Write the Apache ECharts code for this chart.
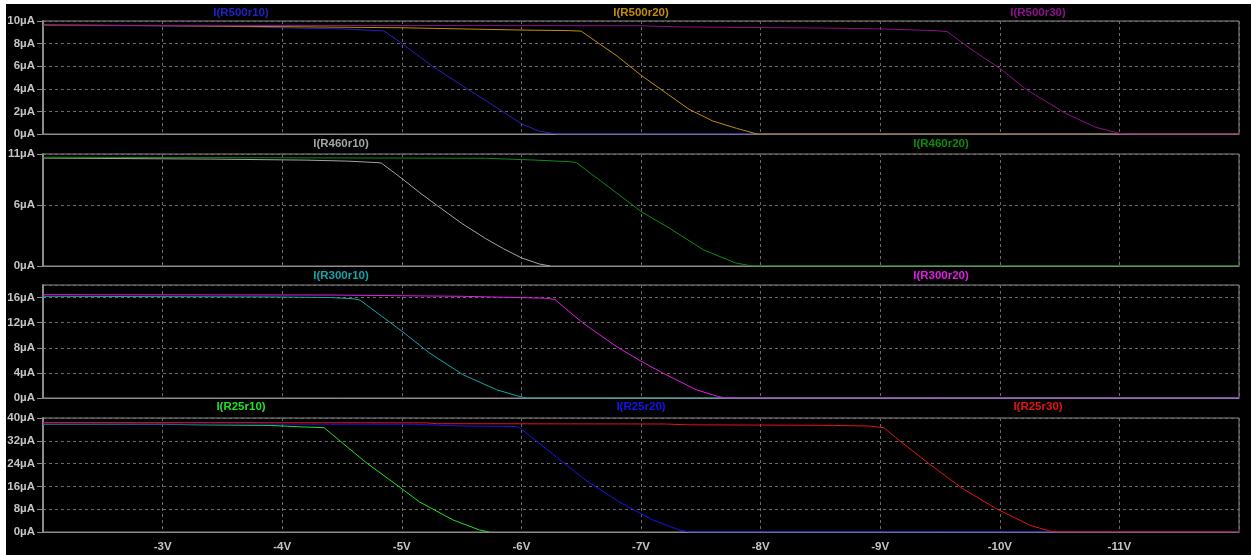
<!DOCTYPE html>
<html>
<head>
<meta charset="utf-8">
<script src="https://cdn.jsdelivr.net/npm/echarts@6/dist/echarts.min.js"></script>
<style>
    html, body { margin: 0; padding: 0; background: #fff; }
    #chart { width: 1251px; height: 555px; }
</style>
</head>
<body>
<div id="chart"></div>
<script>
    // [volts, µA]
    var r500r10 = [[-2, 9.6], [-3.5, 9.55], [-4.0, 9.4], [-4.5, 9.3], [-4.85, 9.12], [-4.98, 8.17], [-5.15, 6.84], [-5.26, 5.96],
        [-5.54, 4.04], [-5.82, 2.15], [-6.0, 0.9], [-6.15, 0.25], [-6.3, 0], [-12, 0]]
    var r500r20 = [[-2, 9.65], [-2.8, 9.6], [-4.0, 9.5], [-5.0, 9.4], [-5.5, 9.3], [-6.0, 9.2], [-6.4, 9.15], [-6.5, 9.1],
        [-6.65, 8.0], [-6.8, 6.9], [-7.0, 5.2], [-7.2, 3.7], [-7.4, 2.2], [-7.6, 1.15], [-7.8, 0.5], [-7.97, 0], [-12, 0]]
    var r500r30 = [[-2, 9.62], [-7.0, 9.58], [-7.3, 9.48], [-8.5, 9.38], [-9.0, 9.3], [-9.45, 9.15], [-9.56, 9.06],
        [-9.77, 7.43], [-10.0, 5.81], [-10.22, 3.95], [-10.55, 1.83], [-10.8, 0.6], [-11.0, 0.06], [-11.05, 0], [-12, 0]]

    var r460r10 = [[-2, 10.6], [-3.4, 10.5], [-4.2, 10.4], [-4.55, 10.3], [-4.8, 10.15], [-4.83, 10.1], [-5.0, 8.6],
        [-5.15, 7.2], [-5.3, 5.9], [-5.5, 4.2], [-5.7, 2.7], [-5.85, 1.7], [-6.0, 0.8], [-6.15, 0.2], [-6.24, 0]]
    var r460r20 = [[-2, 10.68], [-2.65, 10.66], [-5.7, 10.58], [-6.1, 10.41], [-6.4, 10.25], [-6.46, 10.15], [-6.68, 8.2],
        [-6.85, 6.7], [-7.0, 5.35], [-7.24, 3.7], [-7.52, 1.6], [-7.79, 0.3], [-7.93, 0], [-12, 0]]

    var r300r10 = [[-2, 16.2], [-3.9, 16.1], [-4.4, 16.0], [-4.6, 15.8], [-4.65, 15.6], [-5.0, 10.66], [-5.23, 7.2],
        [-5.51, 3.73], [-5.79, 1.33], [-5.96, 0.37], [-6.04, 0], [-12, 0]]
    var r300r20 = [[-2, 16.45], [-4.4, 16.4], [-5.5, 16.2], [-6.2, 15.9], [-6.28, 15.7], [-6.51, 12.0], [-6.79, 8.26],
        [-7.0, 5.86], [-7.18, 4.0], [-7.46, 1.33], [-7.64, 0.26], [-7.71, 0], [-12, 0]]

    var r25r10 = [[-2, 37.8], [-3.0, 37.8], [-3.3, 37.6], [-3.9, 37.4], [-4.15, 36.9], [-4.35, 36.6], [-4.7, 24.4],
        [-4.98, 15.8], [-5.15, 10.5], [-5.43, 4.2], [-5.65, 0.7], [-5.73, 0]]
    var r25r20 = [[-2, 37.9], [-5.1, 37.8], [-5.5, 37.2], [-5.95, 37.0], [-5.985, 36.6], [-6.26, 27.4], [-6.54, 18.1],
        [-6.82, 10.5], [-7.1, 4.2], [-7.32, 0.7], [-7.41, 0], [-12, 0]]
    var r25r30 = [[-2, 38.4], [-5.2, 38.3], [-5.3, 38.0], [-7.2, 37.9], [-7.4, 37.6], [-8.2, 37.5], [-8.6, 37.4],
        [-8.9, 37.2], [-9.03, 36.6], [-9.13, 33.1], [-9.41, 23.9], [-9.69, 15.2], [-9.97, 8.2], [-10.25, 2.4],
        [-10.42, 0.3], [-10.49, 0], [-12, 0]]

    var yMax = [10, 11, 18, 40]
    var yStep = [2, 6, 4, 8]

    var traces = [
        {name: 'I(R500r10)', data: r500r10, pane: 0, color: '#2222c4', x: 241},
        {name: 'I(R500r20)', data: r500r20, pane: 0, color: '#c48e00', x: 641},
        {name: 'I(R500r30)', data: r500r30, pane: 0, color: '#8c108c', x: 1038},
        {name: 'I(R460r10)', data: r460r10, pane: 1, color: '#a4a4a4', x: 341},
        {name: 'I(R460r20)', data: r460r20, pane: 1, color: '#0c8c0c', x: 941},
        {name: 'I(R300r10)', data: r300r10, pane: 2, color: '#12a4ac', x: 341},
        {name: 'I(R300r20)', data: r300r20, pane: 2, color: '#e41ce4', x: 941},
        {name: 'I(R25r10)', data: r25r10, pane: 3, color: '#22e022', x: 241},
        {name: 'I(R25r20)', data: r25r20, pane: 3, color: '#1414f0', x: 641},
        {name: 'I(R25r30)', data: r25r30, pane: 3, color: '#e41414', x: 1038}
    ]

    var gridTop = [21, 154, 285, 418]
    var gridH = [113, 112, 113, 114]
    var titleTop = [7, 138, 270, 401]

    var font = '"Liberation Sans", Arial, sans-serif'
    var gray = '#8c8c8c'
    var dash = {color: '#6a6a6a', type: [3, 3], width: 1}

    var grid = [], xAxis = [], yAxis = [], series = [], title = []
    for (var i = 0; i < 4; i++) {
        grid.push({left: 43, right: 12, top: gridTop[i], height: gridH[i], show: true, borderColor: gray, borderWidth: 1})
        xAxis.push({
            type: 'value', gridIndex: i, min: -12, max: -2, interval: 1, inverse: true,
            axisLine: {show: true, lineStyle: {color: gray}},
            axisTick: {show: false},
            splitLine: {show: true, lineStyle: dash},
            axisLabel: {
                show: i === 3, margin: 9, showMinLabel: false, showMaxLabel: false,
                color: '#c4c4c4', fontFamily: font, fontWeight: 'bold', fontSize: 11.5,
                formatter: function (v) { return v + 'V' }
            }
        })
        yAxis.push({
            type: 'value', gridIndex: i, min: 0, max: yMax[i], interval: yStep[i],
            axisLine: {show: true, lineStyle: {color: gray, width: 2}},
            axisTick: {show: true, length: 6, lineStyle: {color: gray}},
            splitLine: {show: true, lineStyle: dash},
            axisLabel: {
                margin: 8, showMaxLabel: i !== 2,
                color: '#c4c4c4', fontFamily: font, fontWeight: 'bold', fontSize: 11.5,
                formatter: function (v) { return v + 'µA' }
            }
        })
    }

    traces.forEach(function (t) {
        series.push({
            name: t.name, type: 'line', xAxisIndex: t.pane, yAxisIndex: t.pane,
            data: t.data, showSymbol: false, symbol: 'none',
            lineStyle: {color: t.color, width: 1}, itemStyle: {color: t.color}
        })
        title.push({
            text: t.name, left: t.x, top: titleTop[t.pane], textAlign: 'center', padding: 0,
            textStyle: {color: t.color, fontFamily: font, fontWeight: 'bold', fontSize: 11.5}
        })
    })

    var chart = echarts.init(document.getElementById('chart'))
    chart.setOption({
        backgroundColor: '#000',
        animation: false,
        title: title,
        grid: grid,
        xAxis: xAxis,
        yAxis: yAxis,
        series: series,
        graphic: [
            {type: 'rect', shape: {x: 0, y: 0, width: 6, height: 555}, style: {fill: '#fff'}},
            {type: 'rect', shape: {x: 0, y: 0, width: 1251, height: 4}, style: {fill: '#fff'}}
        ]
    })
</script>
</body>
</html>
